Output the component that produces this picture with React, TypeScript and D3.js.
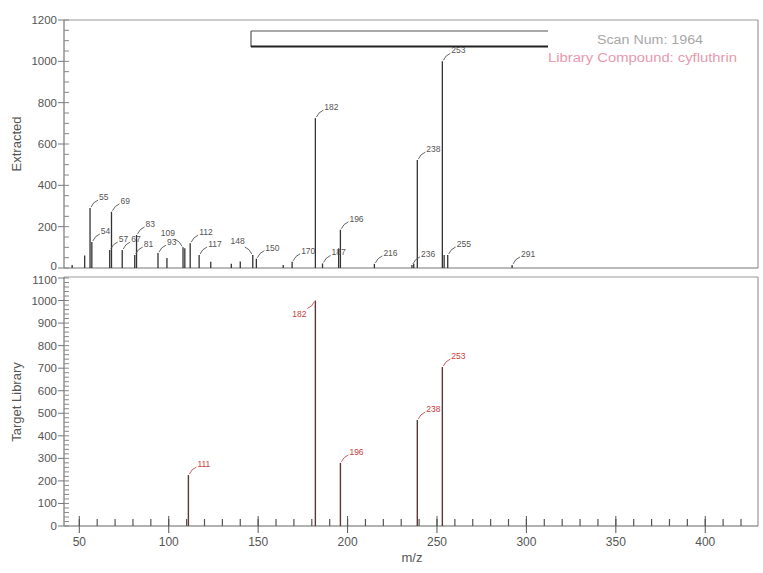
import React from 'react';
import * as d3 from 'd3';

// ---- data ----
const topMz = [46, 53, 56, 57, 67, 68, 74, 81, 82, 94, 99, 108, 109, 112, 117, 123.5, 135, 140, 147, 149, 164, 169, 182, 186, 195, 196, 215, 236, 237, 239, 253, 254, 256, 292];
const topIntensity = [15, 60, 290, 126, 87, 272, 87, 63, 160, 72, 48, 100, 95, 120, 63, 30, 20, 32, 63, 45, 15, 30, 725, 22, 95, 185, 20, 15, 20, 522, 1000, 63, 63, 15];
const topLabels = ["", "", "55", "54", "57", "69", "67", "81", "83", "93", "", "109", "", "112", "117", "", "", "", "148", "150", "", "170", "182", "187", "", "196", "216", "236", "", "238", "253", "", "255", "291"];

const libMz = [111, 182, 196, 239, 253];
const libIntensity = [226, 1000, 280, 470, 705];
const libLabels = ["111", "182", "196", "238", "253"];

const xTickLabels = [50, 100, 150, 200, 250, 300, 350, 400];
const topYTicks = [0, 200, 400, 600, 800, 1000, 1200];
const libYTicks = [0, 100, 200, 300, 400, 500, 600, 700, 800, 900, 1000, 1100];

const scanText = "Scan Num:  1964";
const compoundText = "Library Compound:  cyfluthrin";

// labels drawn on the left side of their peak (layout only)
const topLeftLabels = new Set(["109", "148"]);
const libLeftLabels = new Set(["182"]);

const W = 763, H = 573;
const L = 64, R = 758;
const TOP_T = 20, TOP_B = 268;
const BOT_T = 278, BOT_B = 526;
const FONT = "'Liberation Sans', Arial, sans-serif";

export default function App() {
  const x = d3.scaleLinear().domain([42, 429.5]).range([L + 1, R]);
  const yTop = d3.scaleLinear().domain([0, 1200]).range([TOP_B, TOP_T]);
  const yBot = d3.scaleLinear().domain([0, 1100]).range([BOT_B, BOT_T]);

  const topMinor = d3.range(0, 1201, 50);
  const botMinor = d3.range(0, 1101, 20);
  const xMinor = d3.range(50, 430, 10);

  const label = (px: number, py: number, text: string, color: string, lineColor: string, key: string, left: boolean) => {
    return left ? (
      <g key={key}>
        <path d={`M${px - 1},${py - 1} q-2,-5 -7,-7`} fill="none" stroke={lineColor} strokeWidth={0.9} />
        <text x={px - 8} y={py - 11} fontSize={8.5} fill={color} textAnchor="end">{text}</text>
      </g>
    ) : (
      <g key={key}>
        <path d={`M${px + 1},${py - 1} q2,-5 7,-7`} fill="none" stroke={lineColor} strokeWidth={0.9} />
        <text x={px + 9} y={py - 8} fontSize={8.5} fill={color}>{text}</text>
      </g>
    );
  };

  return (
    <svg width={W} height={H} style={{ position: 'absolute', left: 0, top: 0, background: '#fff' }} fontFamily={FONT}>
      <rect x={0} y={0} width={W} height={H} fill="#fff" />

      {/* ===== top panel ===== */}
      <line x1={L} x2={R} y1={TOP_T} y2={TOP_T} stroke="#999" strokeWidth={1.2} />
      <line x1={R} x2={R} y1={TOP_T} y2={TOP_B} stroke="#999" strokeWidth={1.2} />
      <line x1={L} x2={R} y1={TOP_B} y2={TOP_B} stroke="#777" strokeWidth={1.2} />
      <line x1={L} x2={L} y1={TOP_T} y2={TOP_B} stroke="#777" strokeWidth={1.2} />
      {topMinor.map(v => (
        <line key={'tm' + v} x1={L} x2={L + 5} y1={yTop(v)} y2={yTop(v)} stroke="#888" strokeWidth={1} />
      ))}
      {topYTicks.map(v => (
        <g key={'tt' + v}>
          <line x1={L - 6} x2={L} y1={yTop(v)} y2={yTop(v)} stroke="#777" strokeWidth={1} />
          <text x={L - 7} y={yTop(v) + (v === 0 ? 2 : 4)} fontSize={11.5} fill="#555" textAnchor="end">{v}</text>
        </g>
      ))}
      <text transform={`translate(21,${(TOP_T + TOP_B) / 2}) rotate(-90)`} fontSize={13} fill="#555" textAnchor="middle">Extracted</text>

      {/* legend box */}
      <line x1={251} x2={548} y1={31} y2={31} stroke="#555" strokeWidth={1.2} />
      <line x1={251} x2={251} y1={31} y2={47} stroke="#555" strokeWidth={1.2} />
      <line x1={251} x2={548} y1={46.5} y2={46.5} stroke="#222" strokeWidth={2.2} />
      <text x={597} y={44} fontSize={12} fill="#a8a8a8" textLength={106} lengthAdjust="spacingAndGlyphs">{scanText}</text>
      <text x={548} y={62} fontSize={12} fill="#e79aae" textLength={189} lengthAdjust="spacingAndGlyphs">{compoundText}</text>

      {topMz.map((m, i) => (
        <line key={'ts' + i} x1={x(m)} x2={x(m)} y1={TOP_B} y2={yTop(topIntensity[i])} stroke="#333" strokeWidth={1.3} />
      ))}
      {topMz.map((m, i) => topLabels[i]
        ? label(x(m), yTop(topIntensity[i]), topLabels[i], '#555', '#555', 'tl' + i, topLeftLabels.has(topLabels[i]))
        : null)}

      {/* ===== bottom panel ===== */}
      <line x1={L} x2={R} y1={BOT_T - 1} y2={BOT_T - 1} stroke="#999" strokeWidth={1.2} />
      <line x1={R} x2={R} y1={BOT_T - 1} y2={BOT_B} stroke="#999" strokeWidth={1.2} />
      <line x1={L} x2={R} y1={BOT_B} y2={BOT_B} stroke="#666" strokeWidth={1.2} />
      <line x1={L} x2={L} y1={BOT_T - 1} y2={BOT_B} stroke="#777" strokeWidth={1.2} />
      {botMinor.map(v => (
        <line key={'bm' + v} x1={L} x2={L + 5} y1={yBot(v)} y2={yBot(v)} stroke="#888" strokeWidth={1} />
      ))}
      {libYTicks.map(v => (
        <g key={'bt' + v}>
          <line x1={L - 6} x2={L} y1={yBot(v)} y2={yBot(v)} stroke="#777" strokeWidth={1} />
          <text x={L - 7} y={yBot(v) + (v === 1100 ? 6 : 4)} fontSize={11.5} fill="#555" textAnchor="end">{v}</text>
        </g>
      ))}
      <text transform={`translate(21,${(BOT_T + BOT_B) / 2}) rotate(-90)`} fontSize={13} fill="#555" textAnchor="middle">Target Library</text>

      {xMinor.map(v => (
        <line key={'xm' + v} x1={x(v)} x2={x(v)} y1={BOT_B - 7} y2={BOT_B} stroke="#555" strokeWidth={1.2} />
      ))}
      {xTickLabels.map(v => (
        <g key={'xt' + v}>
          <line x1={x(v)} x2={x(v)} y1={BOT_B - 10} y2={BOT_B + 7} stroke="#555" strokeWidth={1} />
          <text x={x(v)} y={BOT_B + 20} fontSize={12} fill="#555" textAnchor="middle">{v}</text>
        </g>
      ))}
      <text x={412} y={562} fontSize={13} fill="#555" textAnchor="middle">m/z</text>

      {libMz.map((m, i) => (
        <line key={'ls' + i} x1={x(m)} x2={x(m)} y1={BOT_B} y2={yBot(libIntensity[i])} stroke="#5a3838" strokeWidth={1.4} />
      ))}
      {libMz.map((m, i) => {
        const px = x(m), py = yBot(libIntensity[i]);
        if (libLeftLabels.has(libLabels[i])) {
          return (
            <g key={'ll' + i}>
              <path d={`M${px - 1},${py + 1} q-2,5 -7,7`} fill="none" stroke="#c05050" strokeWidth={0.9} />
              <text x={px - 9} y={py + 16} fontSize={8.5} fill="#c83c3c" textAnchor="end">{libLabels[i]}</text>
            </g>
          );
        }
        return label(px, py, libLabels[i], '#c83c3c', '#c05050', 'll' + i, false);
      })}
    </svg>
  );
}
